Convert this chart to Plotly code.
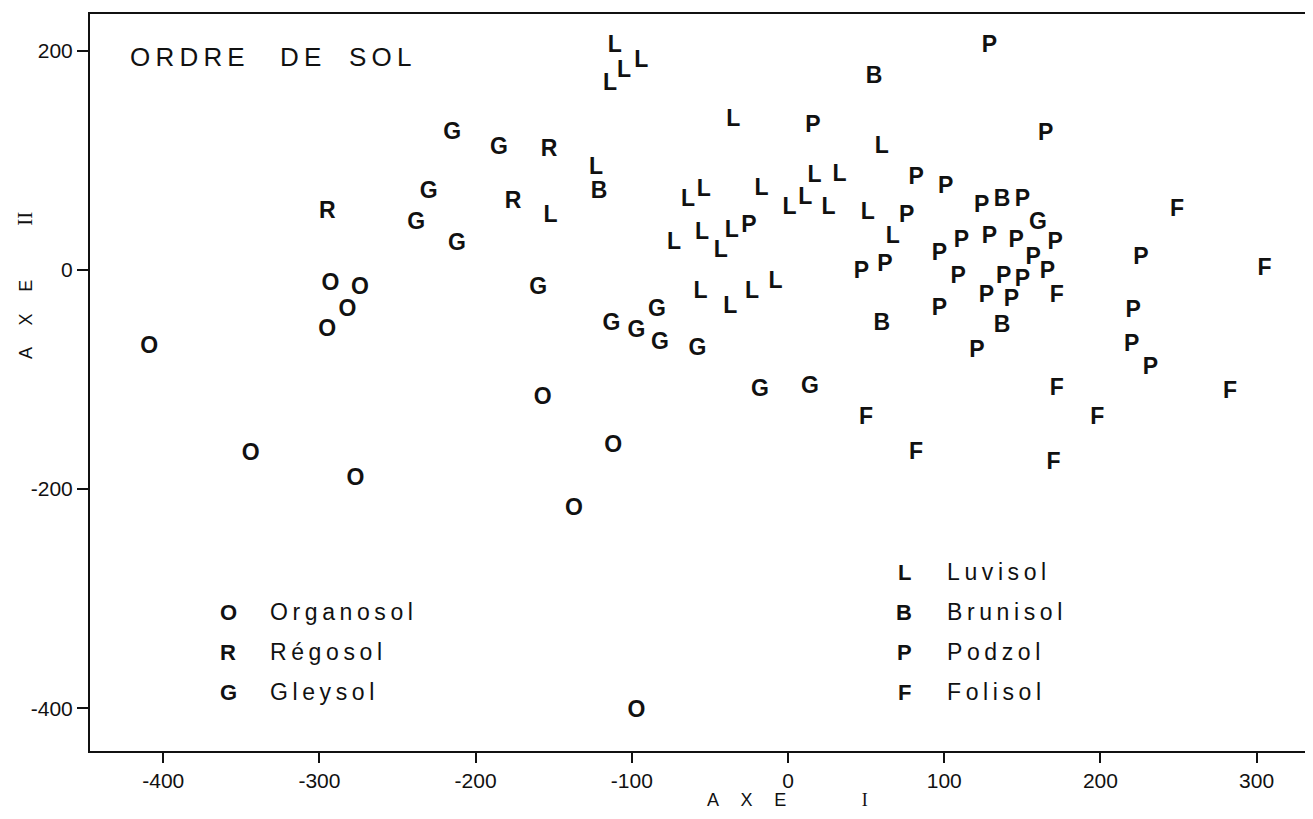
import plotly.graph_objects as go

# ---------------- data ----------------
O_x = [-293, -274, -282, -295, -409, -344, -277, -157, -112, -137, -97]
O_y = [-13, -17, -37, -55, -71, -168, -191, -117, -161, -218, -403]

R_x = [-295, -153, -176]
R_y = [53, 109, 62]

G_x = [-215, -185, -230, -238, -212, -160, -84, -113, -97, -82, -58, -18, 14, 160]
G_y = [125, 111, 71, 43, 23, -17, -37, -50, -56, -67, -72, -110, -107, 43]

L_x = [-111, -105, -94, -114, -35, -123, -152, -64, -54, -17, 17, 33, 1, 11, 26,
       -73, -55, -43, -36, -56, -37, -23, -8, 60, 51, 67]
L_y = [204, 181, 190, 169, 137, 93, 49, 64, 73, 74, 85, 86, 56, 65, 56,
       24, 33, 17, 35, -20, -34, -20, -11, 112, 52, 30]

B_x = [-121, 55, 137, 60, 137]
B_y = [71, 176, 64, -50, -51]

P_x = [16, -25, 129, 165, 82, 101, 124, 150, 76, 111, 97, 129, 146, 171, 157, 226,
       47, 62, 109, 138, 150, 166, 127, 143, 97, 121, 221, 220, 232]
P_y = [131, 40, 204, 124, 84, 75, 58, 64, 49, 26, 14, 30, 26, 24, 11, 11,
       -2, 4, -7, -7, -9, -2, -24, -28, -36, -74, -38, -69, -90]

F_x = [249, 305, 172, 172, 283, 50, 198, 82, 170]
F_y = [54, 1, -24, -109, -112, -135, -135, -167, -176]

codes = ["O", "R", "G", "L", "B", "P", "F"]
names = ["Organosol", "Régosol", "Gleysol", "Luvisol", "Brunisol", "Podzol", "Folisol"]
xs = [O_x, R_x, G_x, L_x, B_x, P_x, F_x]
ys = [O_y, R_y, G_y, L_y, B_y, P_y, F_y]

x_ticks = [-400, -300, -200, -100, 0, 100, 200, 300]
y_ticks = [-400, -200, 0, 200]

title_words = ["ORDRE", "DE", "SOL"]

# ---------------- figure ----------------
INK = "#111111"
SANS = "Liberation Sans, Arial, sans-serif"

# page has an 8px body margin: figure is sized so the plot box lands where the reference has it
W, H = 1305, 811
ML, MR, MT, MB = 82, 0, 6, 68
plot_w, plot_h = W - ML - MR, H - MT - MB
OFF = 8


def px(xpage):
    return (xpage - OFF - ML) / plot_w


def py(ypage):
    return (H - MB - (ypage - OFF)) / plot_h


fig = go.Figure()
for code, name, x, y in zip(codes, names, xs, ys):
    fig.add_trace(go.Scatter(
        x=x, y=y, mode="text", text=[code] * len(x), name=name,
        textposition="middle center",
        textfont=dict(family=SANS, size=23, color=INK, weight="bold"),
        showlegend=False, hoverinfo="x+y+name",
    ))

fig.update_layout(
    width=W, height=H,
    margin=dict(l=ML, r=MR, t=MT, b=MB),
    paper_bgcolor="white", plot_bgcolor="white",
    font=dict(family=SANS, color=INK),
)

fig.update_xaxes(
    range=[-446.9, 336.1], showgrid=False, zeroline=False,
    showline=True, linewidth=2, linecolor=INK, mirror=True,
    ticks="outside", ticklen=10, tickwidth=1.5, tickcolor=INK,
    tickvals=x_ticks, ticktext=[str(v) for v in x_ticks],
    tickfont=dict(family=SANS, size=21, color=INK),
)
fig.update_yaxes(
    range=[-439, 233.5], showgrid=False, zeroline=False,
    showline=True, linewidth=2, linecolor=INK, mirror=False,
    ticks="outside", ticklen=11, tickwidth=1.5, tickcolor=INK,
    tickvals=y_ticks, ticktext=[str(v) for v in y_ticks],
    tickfont=dict(family=SANS, size=21, color=INK),
)


def spaced(word, sep="\u2009"):
    return sep.join(list(word))


# chart title inside the plot (letter-spaced words)
title_left = [128, 278, 347]
for word, left in zip(title_words, title_left):
    fig.add_annotation(
        xref="paper", yref="paper", x=px(left), y=py(57),
        xanchor="left", yanchor="middle", showarrow=False,
        text=spaced(word), font=dict(family=SANS, size=26, color=INK),
    )

# custom legend (letters + names)
legend_rows = {
    "O": (228, 268, 612), "R": (228, 268, 652), "G": (228, 268, 692),
    "L": (904, 945, 572), "B": (904, 945, 612), "P": (904, 945, 652), "F": (904, 945, 692),
}
for code, name in zip(codes, names):
    lx, nx, ly = legend_rows[code]
    fig.add_annotation(
        xref="paper", yref="paper", x=px(lx), y=py(ly),
        xanchor="center", yanchor="middle", showarrow=False,
        text=code, font=dict(family=SANS, size=22, color=INK, weight="bold"),
    )
    fig.add_annotation(
        xref="paper", yref="paper", x=px(nx), y=py(ly),
        xanchor="left", yanchor="middle", showarrow=False,
        text=spaced(name), font=dict(family=SANS, size=23, color=INK),
    )

# axis titles
gap = "\u2003\u2009"
x_title = "A" + gap + "X" + gap + "E" + "\u2003" * 4 + "\u2009" + \
    "<span style=\"font-family:'Liberation Serif'\">I</span>"
y_title = "A" + gap + "X" + gap + "E" + "\u2003" * 3 + \
    "<span style=\"font-family:'Liberation Serif';font-size:21px\">II</span>"

fig.add_annotation(
    xref="paper", yref="paper", x=px(787), y=py(800),
    xanchor="center", yanchor="middle", showarrow=False,
    text=x_title, font=dict(family=SANS, size=18, color=INK),
)
fig.add_annotation(
    xref="paper", yref="paper", x=px(25), y=py(286),
    xanchor="center", yanchor="middle", showarrow=False, textangle=-90,
    text=y_title, font=dict(family=SANS, size=18, color=INK),
)

fig.write_html("out.html")
